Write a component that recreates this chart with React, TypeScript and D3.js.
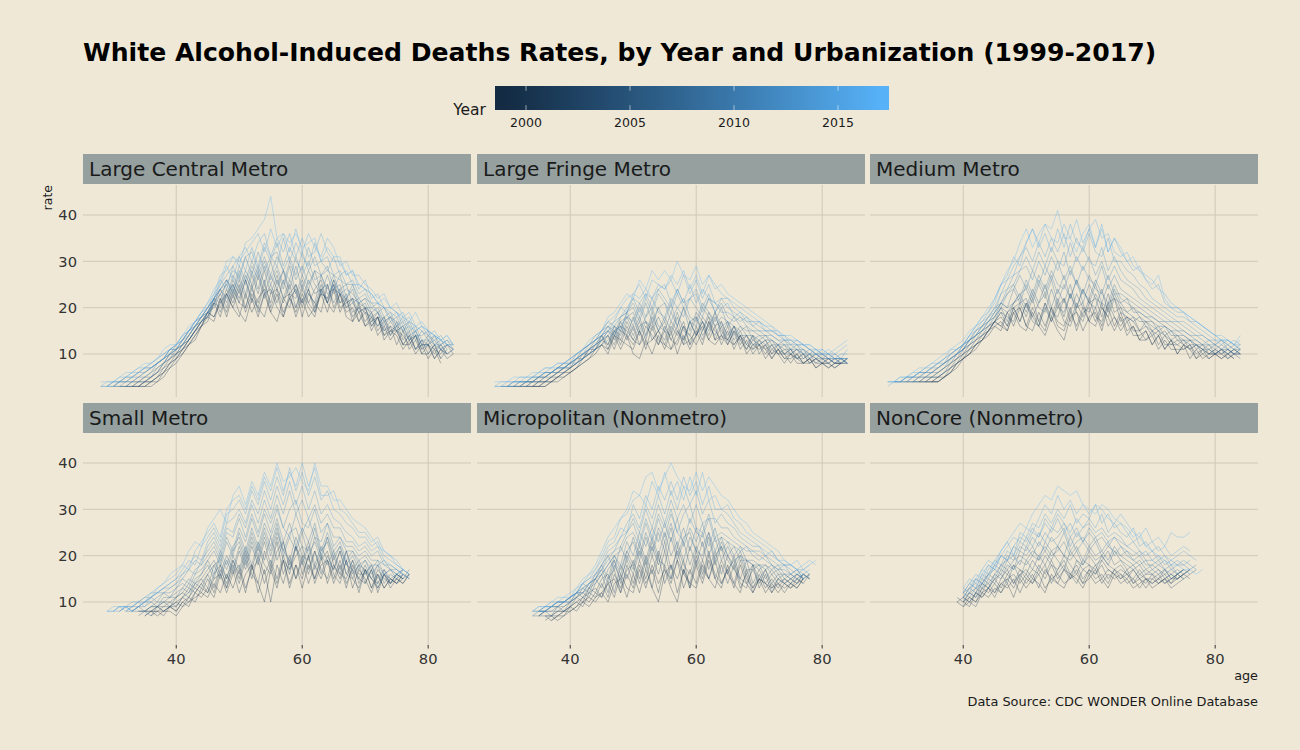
import React from 'react';
import * as d3 from 'd3';

// ---------------- DATA ----------------
const years = [1999, 2000, 2001, 2002, 2003, 2004, 2005, 2006, 2007, 2008, 2009, 2010, 2011, 2012, 2013, 2014, 2015, 2016, 2017];
const panelNames = ['Large Central Metro', 'Large Fringe Metro', 'Medium Metro', 'Small Metro', 'Micropolitan (Nonmetro)', 'NonCore (Nonmetro)'];
const ageTicks = [40, 60, 80];
const rateTicks = [10, 20, 30, 40];
const yearTicks = [2000, 2005, 2010, 2015];

// first age of each year's series (one value per year, 1-year age steps)
const lcmStart = [35, 34, 34, 33, 33, 32, 32, 31, 31, 30, 30, 30, 29, 29, 29, 28, 28, 28, 28];
const lcmRates = [
  [3,3,4,5,7, 8,10,12,13,16, 18,17,22,18,23, 19,17,22,18,23, 19,17,22,23,18, 22,18,20,23,19, 24,19,22,17,19, 16,17,18,13,15, 14,11,13,10,12, 9,11,8],
  [3,3,4,4,6,7, 9,10,12,14,16, 19,18,21,23,20, 18,23,19,22,24, 19,23,18,22,19, 23,20,18,24,21, 19,23,18,17,21, 16,18,14,16,13, 15,12,12,14,10, 12,9,11,10],
  [3,4,4,5,6,8, 9,11,12,14,16, 17,21,18,23,20, 24,19,23,20,18, 23,24,19,22,24, 18,23,21,19,25, 20,23,19,20,17, 19,15,18,14,16, 12,15,11,13,10, 10,12,9],
  [3,3,3,4,5,6,8, 10,11,13,15,16, 19,18,22,19,24, 21,20,25,19,23, 24,20,18,23,25, 20,24,19,23,22, 25,20,21,22,17, 20,16,18,14,15, 15,12,14,11,12, 12,9,11,9,10],
  [3,3,4,4,5,7,8, 9,11,13,15,17, 18,21,20,24,21, 25,20,24,21,26, 20,24,21,25,20, 24,21,19,24,21, 26,21,22,18,20, 17,19,15,17,14, 16,12,14,11,13, 10,12,9,11],
  [3,3,4,4,5,6,7,9, 10,12,13,15,17, 18,22,19,23,25, 21,26,22,20,25, 21,26,22,20,25, 21,24,20,25,21, 24,23,20,21,19, 20,16,18,15,16, 15,14,12,14,11, 12,11,10,12,10],
  [3,3,3,4,5,6,8,9, 10,11,13,15,17, 19,21,23,20,25, 22,26,21,27,22, 25,21,26,22,20, 25,21,24,26,21, 25,21,23,19,20, 19,18,16,18,14, 17,13,15,11,13, 12,10,12,10],
  [3,3,3,4,4,5,6,8,9, 11,12,13,15,17, 19,20,23,25,22, 26,22,27,23,28, 23,27,22,26,23, 21,26,23,24,25, 21,24,20,22,19, 20,19,16,18,15, 16,15,13,14,11, 13,11,12,10,11],
  [3,3,4,4,5,5,7,8,10, 10,12,14,16,17, 19,21,24,21,26, 23,27,24,28,23, 27,24,28,23,22, 26,23,21,27,23, 24,25,21,22,21, 20,17,19,15,17, 15,16,13,14,12, 12,13,11,10,11],
  [3,3,3,4,4,5,6,7,8,10, 11,12,14,16,18, 19,22,21,26,23, 27,23,28,24,29, 25,28,24,29,23, 27,24,28,23,22, 26,23,22,24,20, 21,18,19,16,18, 15,16,13,15,12, 12,14,11,12,11],
  [3,3,4,4,5,5,6,8,9,10, 12,13,15,16,18, 20,22,24,22,27, 24,28,25,29,25, 30,25,28,24,29, 24,28,25,23,27, 23,24,25,21,22, 20,20,19,17,18, 16,17,14,15,12, 14,12,11,12,11],
  [3,4,4,4,5,6,7,8,9,11, 11,13,15,17,18, 20,22,24,26,23, 28,25,29,26,30, 26,29,25,30,26, 29,25,28,27,24, 27,23,24,23,21, 22,19,20,17,18, 17,15,16,13,15, 13,12,13,11],
  [3,3,4,4,5,5,6,7,8,9,10, 11,12,14,16,17, 18,21,24,26,24, 29,26,30,27,31, 27,31,28,26,31, 27,30,26,27,29, 24,27,22,25,21, 22,21,19,20,17, 18,15,17,14,14, 15,12,12,13,11],
  [3,4,4,4,5,6,6,7,8,9,10, 11,13,14,16,18, 19,22,24,25,28, 27,31,27,32,28, 31,32,28,31,27, 32,28,31,27,28, 27,26,25,25,22, 23,20,21,18,19, 16,18,15,16,13, 13,14,12,13,12],
  [3,3,4,5,5,6,7,7,8,9,11, 11,13,15,16,18, 20,22,25,27,29, 26,31,32,28,33, 30,34,29,33,30, 28,33,29,30,31, 27,28,25,26,23, 24,21,21,20,18, 19,16,17,16,15, 14,13,14,12,12],
  [3,3,4,4,5,5,6,7,7,8,9,11, 12,13,15,17,18, 20,22,26,24,29, 31,28,33,29,34, 31,29,35,30,34, 31,29,34,30,28, 31,27,28,25,25, 24,23,21,20,19, 18,19,16,15,16, 14,15,13,12,12],
  [3,3,4,4,5,6,6,7,8,9,10,11, 12,14,15,17,19, 20,23,25,29,26, 31,33,30,34,36, 31,35,32,36,31, 35,31,32,36,32, 30,30,27,28,24, 26,22,23,20,20, 19,17,18,15,16, 15,14,13,12],
  [3,4,4,5,5,6,7,7,8,9,10,11, 12,14,15,17,19, 21,23,27,28,31, 30,32,34,36,32, 37,33,36,32,37, 32,36,33,31,35, 33,29,30,27,27, 25,24,22,23,20, 19,18,19,16,17, 15,14,13,14,12],
  [4,4,4,5,6,6,7,8,8,9,11,12, 12,14,16,17,19, 21,24,26,30,31, 29,34,35,37,39, 44,35,36,34,36, 33,34,35,30,33, 31,31,27,28,25, 24,23,21,22,20, 21,18,17,19,16, 15,14,13,14,12],
];

const lfmStart = [35, 34, 34, 33, 33, 32, 32, 31, 31, 30, 30, 30, 29, 29, 29, 28, 28, 28, 28];
const lfmRates = [
  [3,3,4,4,5, 6,7,8,9,10, 12,11,14,11,14, 10,9,13,10,14, 11,15,10,14,11, 14,16,13,12,14, 13,12,14,10,12, 11,12,9,11,9, 10,8,8,9,7, 8,7,8,8],
  [3,3,3,4,5,5, 6,7,8,9,11, 12,10,14,13,12, 11,15,12,13,15, 12,11,15,12,13, 15,12,17,13,14, 12,15,11,13,10, 12,11,9,11,10, 8,10,8,9,7, 8,8,7,8,9],
  [3,3,4,4,5,6, 6,7,9,10,11, 12,14,11,15,14, 12,15,11,16,12, 15,11,13,16,12, 14,17,13,16,12, 15,11,14,12,11, 12,9,11,10,8, 10,9,8,9,8, 8,7,8,8],
  [3,3,3,4,4,5,6, 7,8,9,10,11, 13,12,15,12,16, 13,12,16,14,12, 16,13,12,16,14, 12,15,18,13,16, 12,15,13,11,14, 10,12,10,11,9, 9,10,8,8,9, 8,8,7,8,8],
  [3,3,4,4,5,5,6, 7,8,9,11,11, 14,11,15,16,13, 16,12,14,17,13, 12,16,14,17,12, 16,13,17,15,13, 16,12,14,11,13, 12,10,12,10,11, 10,9,10,8,9, 8,9,8,8],
  [3,3,3,4,4,5,6,6, 7,8,10,10,12, 13,14,12,16,15, 13,16,17,13,15, 17,13,16,12,17, 14,17,14,18,15, 13,16,12,14,11, 13,11,12,10,10, 11,9,10,8,9, 8,9,8,8,9],
  [3,3,4,4,4,5,6,7, 7,9,9,11,12, 14,12,16,13,17, 14,17,13,18,15, 13,17,15,13,17, 14,18,16,14,17, 13,16,13,14,12, 12,13,10,12,10, 11,9,9,10,8, 9,8,9,8,8],
  [3,3,3,4,4,5,5,6,7, 8,9,10,11,12, 13,15,14,17,14, 18,14,17,15,18, 15,14,18,13,17, 18,14,16,19,14, 17,13,15,12,14, 12,13,11,12,10, 10,11,9,10,9, 9,8,9,9,8],
  [3,3,4,4,5,5,6,6,7, 8,9,10,11,13, 14,15,13,17,18, 15,18,14,19,15, 18,15,19,15,14, 18,15,19,16,17, 14,16,14,14,12, 13,12,13,11,12, 10,11,10,9,10, 9,9,8,9,8],
  [3,3,3,4,4,4,5,6,7,7, 8,9,11,12,13, 14,16,15,14,18, 19,15,18,20,16, 15,19,16,20,15, 19,17,15,19,16, 17,14,16,14,14, 13,14,12,12,11, 11,10,11,9,10, 9,9,8,9,9],
  [3,3,4,4,4,5,5,6,7,8, 8,10,11,12,13, 15,16,14,18,19, 16,20,17,16,20, 17,21,16,20,17, 16,20,18,16,18, 17,16,15,16,13, 14,13,13,12,12, 11,11,10,10,9, 10,9,9,8,9],
  [3,3,3,4,4,5,6,6,7,8, 9,10,11,12,14, 15,17,16,15,19, 20,17,21,17,20, 21,17,20,22,18, 17,21,19,17,20, 16,18,16,15,15, 14,14,13,12,13, 11,12,10,11,10, 9,10,9,9,8],
  [3,3,3,4,4,4,5,5,6,6,7, 7,8,9,10,11, 12,13,15,16,18, 17,21,18,22,19, 18,22,20,18,22, 20,18,22,19,21, 18,17,18,16,15, 15,14,14,13,12, 12,11,11,10,10, 10,9,9,9,8],
  [3,3,4,4,4,5,5,6,6,7,7, 8,8,9,10,11, 13,14,16,15,19, 21,18,22,19,23, 21,19,23,20,22, 23,19,22,21,19, 19,18,17,18,16, 15,15,14,13,13, 12,12,11,10,11, 10,9,10,9,9],
  [3,3,4,4,4,5,5,6,6,7,7, 8,9,10,11,12, 13,15,16,18,19, 22,19,23,20,24, 22,20,24,21,22, 24,20,23,19,22, 20,19,18,17,17, 16,15,15,14,13, 13,12,12,11,10, 10,10,9,9,9],
  [3,3,3,4,4,4,5,5,6,6,7,7, 8,9,10,11,12, 14,15,17,18,20, 22,21,23,22,24, 25,21,24,21,25, 21,24,22,21,20, 21,18,19,17,16, 17,15,15,14,14, 12,13,12,11,10, 11,10,9,10,10],
  [3,3,4,4,4,5,5,6,6,7,7,8, 8,9,10,12,13, 14,16,17,20,19, 23,22,24,22,25, 24,26,23,27,23, 26,22,25,21,22, 22,20,19,18,17, 17,16,15,15,13, 13,12,12,11,11, 10,10,10,9,11],
  [3,4,4,4,5,5,5,6,7,7,8,8, 9,10,11,12,13, 15,17,18,20,22, 23,25,22,26,25, 24,27,25,28,24, 27,23,27,25,23, 22,21,20,19,18, 17,16,16,14,14, 13,13,12,12,11, 10,11,10,11,12],
  [4,4,4,5,5,5,6,6,7,7,8,8, 9,10,11,13,14, 15,18,19,21,23, 22,26,24,28,26, 28,26,30,27,26, 29,25,27,24,25, 23,22,21,20,19, 18,17,16,15,14, 14,13,12,12,11, 11,10,11,12,13],
];

const mmStart = [35, 35, 34, 34, 33, 33, 32, 32, 31, 31, 30, 30, 29, 29, 29, 28, 28, 28, 28];
const mmRates = [
  [4,4,5,6,8, 9,10,12,13,14, 16,17,15,19,16, 15,19,16,14,18, 15,13,18,19,15, 18,19,15,20,16, 19,15,16,13,15, 12,14,11,13,10, 12,9,11,9,10, 10,9,10,9],
  [4,4,5,6,7, 9,10,11,13,15, 16,15,19,16,20, 16,15,19,16,20, 16,15,19,16,20, 17,16,20,18,15, 18,14,16,13,13, 14,11,13,11,11, 11,12,9,10,9, 10,9,10,11,10],
  [4,4,4,5,6,8, 9,10,12,13,15, 17,16,15,19,20, 16,20,17,15,20, 17,16,20,15,19, 20,17,21,16,18, 15,17,14,14,15, 12,14,11,13,10, 12,11,9,11,9, 10,10,9,10],
  [4,4,5,5,7,8, 9,11,12,13,15, 17,18,16,20,17, 21,17,16,20,17, 21,17,16,20,21, 17,20,16,21,18, 16,18,15,15,13, 15,12,14,12,12, 11,12,10,11,10, 10,11,9,10,10],
  [4,4,4,5,6,7,8, 10,11,12,14,15, 17,16,19,20,17, 21,18,16,21,17, 20,22,17,21,18, 22,18,17,21,22, 17,18,17,15,16, 14,15,12,12,13, 12,11,12,10,11, 10,11,10,9],
  [4,4,5,5,6,7,9, 10,11,13,14,15, 17,19,16,20,21, 18,22,17,21,18, 22,18,23,19,17, 21,22,18,23,19, 20,17,18,15,17, 15,14,15,13,12, 13,11,12,11,10, 11,10,11,10,9],
  [4,4,4,5,5,6,8,9, 10,12,13,14,16, 17,19,18,17,21, 22,18,21,23,19, 18,22,19,23,20, 19,23,20,18,22, 19,18,17,18,16, 15,16,14,13,14, 12,13,11,12,10, 11,10,11,10,10],
  [4,4,5,5,6,7,8,9, 11,12,13,15,16, 17,20,17,21,22, 19,23,20,19,24, 20,19,23,20,24, 21,20,24,19,23, 20,19,18,17,17, 16,15,14,15,13, 13,12,12,11,11, 10,11,10,11,10],
  [4,4,4,5,5,6,7,8,10, 11,12,14,15,16, 18,20,19,21,23, 20,24,21,25,20, 24,21,25,20,24, 21,25,21,20,24, 21,19,20,18,17, 17,15,16,14,14, 13,13,12,11,12, 10,11,11,10,11],
  [4,4,5,5,6,6,7,9,10, 11,13,14,15,17, 18,21,20,21,23, 24,21,25,22,26, 21,25,22,26,21, 25,22,21,25,22, 21,22,19,19,18, 17,16,16,15,14, 14,13,12,12,11, 12,11,10,11,11],
  [4,4,4,5,5,6,7,8,9,10, 12,13,14,16,17, 19,21,20,24,21, 25,22,26,23,27, 23,27,22,26,23, 22,26,23,21,25, 22,21,20,19,18, 18,17,16,15,15, 14,13,13,12,12, 11,12,11,10,11],
  [4,4,5,5,6,6,7,8,10,11, 12,13,15,16,18, 20,21,23,25,22, 26,23,27,24,28, 25,24,28,25,23, 27,24,23,27,23, 23,22,21,20,19, 18,17,17,16,15, 15,14,13,12,13, 12,11,12,11,10],
  [4,4,4,5,5,6,6,7,8,9,10, 11,13,14,15,17, 18,20,23,24,27, 24,28,25,29,26, 30,26,29,25,29, 26,25,29,24,27, 24,23,22,21,20, 19,18,17,17,16, 15,14,14,13,12, 12,13,11,12,11],
  [4,4,5,5,6,6,7,7,8,9,10, 11,13,14,16,17, 19,21,24,25,28, 29,26,30,27,31, 28,32,27,31,28, 31,27,30,26,29, 26,25,24,22,21, 20,19,18,17,17, 16,15,14,14,13, 12,13,12,11,12],
  [4,4,5,5,6,6,7,8,8,9,10, 12,13,15,16,18, 19,23,24,27,28, 31,28,32,29,33, 30,29,34,30,33, 30,29,33,28,31, 28,26,25,24,22, 21,20,19,18,17, 17,16,15,14,13, 13,12,13,12,11],
  [3,4,4,5,5,6,6,7,8,9,10,11, 12,14,15,17,18, 20,23,26,27,31, 33,30,34,31,35, 32,36,31,35,32, 36,32,31,35,30, 30,28,27,25,24, 22,21,20,19,18, 18,17,16,15,14, 13,13,12,13,12],
  [4,4,4,5,5,6,7,7,8,9,10,11, 12,14,16,17,19, 21,25,26,29,31, 34,37,33,36,32, 37,33,38,34,33, 37,33,38,32,35, 32,30,28,29,26, 24,25,21,20,19, 19,17,17,16,15, 14,13,13,12,12],
  [4,4,5,5,6,6,7,8,8,9,11,11, 12,14,16,18,19, 22,25,27,31,29, 34,37,34,38,35, 34,38,35,39,34, 37,39,35,36,32, 31,32,29,28,27, 26,24,23,21,20, 19,18,17,16,15, 14,14,13,12,13],
  [4,4,5,5,6,7,7,8,9,10,11,12, 13,15,16,18,20, 22,25,28,30,34, 37,33,36,38,37, 41,35,35,32,36, 38,33,37,32,35, 33,30,31,28,26, 25,27,22,20,20, 19,18,17,16,15, 14,13,13,12,14],
];

const smStart = [36, 36, 35, 35, 35, 34, 34, 34, 33, 33, 32, 32, 31, 31, 30, 30, 29, 29, 29];
const smRates = [
  [8,7,8,8, 7,9,10,11,12, 11,14,12,16,13, 17,12,18,14,10, 17,13,19,14,18, 13,18,15,20,14, 18,15,19,13,17, 15,12,16,13,15, 14,16],
  [7,8,8,9, 8,10,9,12,11, 13,11,16,13,17, 12,16,18,12,17, 10,18,14,19,15, 19,14,18,15,19, 14,18,13,18,15, 14,17,12,16,14, 15,14,16],
  [7,8,8,7,9, 8,10,11,10,13, 12,15,16,12,16, 18,13,17,19,14, 18,14,19,13,18, 15,20,14,18,19, 15,19,14,17,12, 17,13,16,13,15, 14,15],
  [7,8,9,8,9, 10,9,11,13,12, 15,12,17,14,18, 14,19,15,20,16, 19,15,20,16,22, 16,20,15,19,21, 16,14,19,15,13, 17,15,13,16,13, 15,14,16],
  [8,8,8,9,9, 9,11,10,12,14, 12,16,18,13,19, 15,20,16,14,21, 17,23,16,20,15, 20,16,21,17,15, 20,16,15,19,14, 17,13,17,15,14, 16,15],
  [7,8,8,9,8,9, 10,11,13,12,14, 16,13,18,15,19, 16,21,17,22,18, 16,21,23,17,20, 22,17,21,16,20, 17,21,16,15,18, 14,17,13,16,15, 14,16,15],
  [8,8,7,9,9,10, 9,11,12,14,13, 16,18,15,19,16, 21,17,22,18,23, 18,24,19,17,22, 18,22,17,21,23, 18,16,21,17,15, 18,15,14,17,14, 16,15],
  [8,8,9,9,10,9, 11,12,11,14,15, 13,18,19,15,20, 17,22,18,23,19, 24,19,23,18,22, 19,23,18,22,19, 17,21,16,19,16, 16,18,14,16,14, 16,15,17],
  [8,8,8,9,9,10,10, 11,12,14,13,15, 17,19,16,20,17, 22,18,23,19,24, 20,25,21,19,24, 20,19,24,20,18, 21,17,21,16,18, 17,15,18,14,16, 15,17],
  [8,9,8,9,10,10,11, 11,13,12,15,16, 18,15,20,17,21, 23,19,24,20,25, 21,26,20,24,21, 25,20,23,19,24, 19,22,18,17,19, 16,18,15,17,15, 16,15,16],
  [8,8,9,9,10,9,11,11, 12,13,15,14,16, 19,16,21,18,22, 24,20,25,21,26, 22,27,21,25,26, 22,21,26,20,24, 20,22,18,20,17, 19,16,18,16,17, 15,16],
  [8,9,9,10,10,11,12,11, 13,14,13,16,17, 19,21,18,23,20, 25,21,26,22,27, 24,28,23,27,22, 26,23,27,21,25, 21,23,19,21,18, 19,17,19,16,17, 16,17,16],
  [8,9,8,9,10,11,10,12,12, 13,15,14,17,18, 20,22,19,24,21, 26,23,28,24,29, 25,30,26,24,29, 25,28,24,23,27, 22,24,21,21,19, 20,18,18,19,17, 16,17],
  [8,9,9,10,10,11,12,12,13, 14,15,17,16,19, 21,23,20,25,24, 28,24,29,25,30, 27,31,26,30,32, 27,26,30,25,27, 24,24,22,22,20, 21,19,19,18,17, 17,16,15],
  [8,8,9,9,10,11,11,12,13,13, 14,16,17,19,18, 22,24,21,26,25, 29,26,31,27,32, 28,33,29,34,29, 32,28,31,27,29, 26,26,23,23,21, 22,20,21,18,18, 17,16],
  [8,9,9,10,10,11,12,12,13,14, 15,16,18,20,19, 23,25,22,27,28, 30,27,32,29,34, 30,35,31,36,31, 35,30,34,29,31, 28,27,25,24,22, 23,21,22,19,18, 17,16,15],
  [8,8,9,9,8,9,10,11,12,13,14, 15,17,19,18,22, 24,26,23,29,30, 32,29,34,31,36, 32,37,33,39,34, 38,33,37,32,34, 30,29,27,26,24, 24,22,23,20,19, 18,17,16],
  [8,9,9,8,9,10,9,11,13,14,15, 16,18,17,21,23, 25,27,24,30,32, 33,30,35,32,37, 34,39,34,38,35, 40,35,39,33,33, 34,30,29,27,25, 25,23,24,21,20, 19,17,16],
  [8,8,9,9,8,9,10,12,13,14,16, 17,18,21,23,22, 26,28,30,27,33, 35,31,36,33,38, 35,40,36,37,39, 36,34,40,35,35, 32,32,30,28,27, 26,24,22,21,20, 18,17],
];

const mpStart = [37, 37, 36, 36, 36, 35, 35, 35, 34, 34, 34, 35, 35, 35, 35, 35, 34, 34, 34];
const mpRates = [
  [7,6,7, 8,9,10,9,11, 12,10,14,15,11, 16,12,17,13,10, 16,18,12,17,13, 18,14,19,15,13, 18,14,12,17,13, 15,12,14,12,14, 13,14,15],
  [6,7,7, 9,8,10,11,10, 12,14,11,16,13, 12,17,13,18,14, 17,13,10,17,14, 13,18,15,19,14, 17,13,18,14,12, 15,14,13,14,12, 14,13,15,16],
  [7,6,7,8, 8,9,11,10,12, 11,14,15,12,16, 13,18,14,17,12, 18,14,19,13,17, 14,19,15,13,18, 14,18,13,16,12, 15,14,12,14,13, 14,13,15],
  [6,7,7,8, 9,10,9,12,11, 14,11,16,13,17, 18,14,19,13,20, 14,18,15,19,13, 19,15,20,16,14, 17,19,14,13,18, 13,16,12,15,14, 13,15,14,16],
  [7,7,8,8, 9,10,11,12,13, 11,15,17,12,18, 14,19,15,20,16, 21,15,19,16,14, 20,16,21,15,19, 16,14,19,15,13, 16,13,15,13,15, 14,15,14],
  [7,7,7,8,8, 9,11,10,13,12, 15,16,12,18,15, 19,15,20,16,21, 17,15,22,18,16, 21,17,15,20,22, 16,20,15,14,17, 14,17,13,15,14, 15,14,16,15],
  [7,8,7,9,8, 10,11,12,11,14, 16,12,18,15,19, 16,21,17,22,18, 23,17,21,16,22, 18,23,17,21,16, 20,17,15,19,14, 17,14,16,14,15, 14,16,15],
  [7,8,8,8,9, 10,12,11,13,15, 13,17,19,14,20, 17,22,18,23,19, 18,24,19,23,18, 22,19,24,18,22, 19,17,20,16,18, 15,17,14,16,14, 15,14,16,15],
  [7,7,8,8,9,9, 10,11,13,12,15, 17,14,19,16,21, 18,23,19,24,20, 25,20,23,19,24, 21,20,25,19,23, 20,18,21,17,17, 18,15,17,15,16, 15,16,15],
  [7,8,8,9,9,10, 11,12,12,14,15, 18,15,20,17,21, 23,19,24,20,25, 21,26,20,24,25, 21,25,20,24,19, 22,19,20,19,18, 17,18,16,17,15, 16,15,16,15],
  [8,8,8,9,10,10, 11,12,14,13,16, 18,20,17,22,19, 24,20,25,21,26, 23,27,22,26,21, 26,22,25,21,24, 20,22,19,19,18, 18,17,18,16,16, 15,16,15],
  [8,8,9,9,10, 10,11,12,13,14, 16,18,20,18,23, 20,25,22,26,23, 27,23,28,22,26, 23,27,22,26,21, 23,20,22,19,19, 18,18,17,18,16, 16,15,16,15],
  [8,9,9,10,10, 11,12,12,14,15, 16,18,20,21,24, 25,22,27,23,28, 24,29,25,23,28, 25,24,28,23,24, 23,22,21,22,20, 19,20,18,17,17, 16,17,15],
  [8,8,9,9,10, 10,12,13,14,15, 17,19,21,22,25, 27,23,28,24,29, 26,30,25,29,31, 26,25,29,24,25, 24,23,22,21,21, 20,19,18,17,18, 16,17,15,16],
  [8,9,9,10,10, 11,12,13,14,16, 17,20,21,24,25, 28,25,30,26,31, 27,32,28,31,27, 31,27,28,28,26, 26,24,23,22,21, 21,20,19,18,18, 17,16,17,16],
  [8,8,9,10,10, 11,12,14,15,16, 18,21,22,24,27, 29,26,31,28,33, 29,34,30,35,31, 34,29,32,27,29, 27,26,24,23,22, 22,20,21,19,18, 18,17,16,17],
  [8,8,9,9,10,10, 11,12,14,15,17, 19,22,23,26,25, 31,28,33,30,35, 32,36,32,37,33, 36,31,35,30,30, 29,27,25,24,23, 22,21,20,19,18, 18,17,17,18],
  [8,9,9,10,10,11, 11,13,14,16,17, 20,23,24,28,29, 32,33,31,36,33, 38,33,36,32,37, 33,38,32,33,30, 31,28,27,25,24, 23,22,21,19,19, 18,17,18,19,18],
  [8,9,9,10,11,11, 12,13,15,16,18, 21,24,26,28,30, 34,33,37,38,34, 37,40,37,35,34, 38,34,37,35,33, 32,30,28,27,25, 24,23,22,21,19, 18,19,17,18,19],
];

const ncStart = [39, 39, 39, 40, 40, 40, 40, 40, 40, 40, 40, 40, 40, 40, 40, 40, 40, 41, 41];
const ncRates = [
  [10, 9,11,10,12,11, 13,12,14,11,15, 13,15,14,12,16, 14,13,16,15,13, 16,14,15,13,16, 14,15,13,14,15, 13,14,15,14,16, 17],
  [11, 10,9,12,11,13, 12,14,13,15,12, 15,14,16,13,15, 16,14,15,17,14, 15,17,14,16,15, 16,14,15,13,15, 14,15,14,15,15, 16,17],
  [10, 11,10,9,12,13, 11,14,15,13,16, 14,16,13,17,15, 14,17,15,16,14, 17,15,16,14,17, 15,16,14,15,13, 15,14,15,13,14, 15],
  [10,11,10,13,12, 14,12,15,16,14, 16,14,17,15,18, 15,17,16,14,17, 16,18,15,17,16, 15,17,14,16,15, 14,15,16,14,15, 16,15],
  [9,10,12,11,13, 15,13,16,14,17, 15,17,16,18,14, 17,19,16,18,15, 17,16,18,15,17, 16,15,17,15,14, 16,14,15,16,15, 16],
  [10,12,11,13,14, 12,15,17,14,16, 17,15,18,16,19, 16,18,15,19,17, 18,16,19,17,16, 17,16,15,17,15, 15,16,14,15,16, 15,16,17],
  [11,10,12,14,13, 15,16,14,18,17, 16,19,17,20,18, 17,20,18,16,19, 18,17,20,18,17, 18,16,17,15,16, 16,15,17,15,16, 15],
  [10,12,13,12,15, 14,17,16,18,15, 19,17,20,18,21, 19,17,21,19,18, 20,18,19,21,18, 19,17,18,16,17, 16,17,15,16,15, 16,17],
  [11,12,11,14,13, 16,15,18,17,19, 18,20,19,21,19, 22,20,19,21,18, 21,19,20,18,21, 19,18,17,18,16, 17,16,17,15,16, 17],
  [11,13,12,15,14, 16,18,17,19,20, 19,21,20,22,20, 21,23,20,22,19, 22,20,21,19,22, 20,19,18,19,17, 18,17,16,17,16, 17,16],
  [12,11,13,14,16, 15,18,19,17,21, 20,22,19,23,21, 22,20,24,21,23, 21,23,20,22,21, 20,21,19,18,19, 17,18,17,16,17, 16,17,18],
  [12,13,14,13,16, 17,16,19,20,18, 22,20,23,21,24, 22,25,21,23,24, 22,24,21,23,20, 22,20,19,20,18, 18,19,17,18,16, 17],
  [11,13,15,14,16, 18,17,20,19,22, 21,24,22,25,23, 24,26,22,25,23, 25,23,24,22,24, 22,21,20,21,19, 19,18,19,17,18, 18,17],
  [12,14,13,16,15, 18,20,19,22,21, 24,22,25,23,26, 25,27,24,26,23, 26,24,25,23,24, 23,22,21,20,21, 19,20,18,19,18, 19,18,17],
  [13,12,15,14,17, 19,18,21,20,23, 22,25,24,27,25, 28,25,27,24,26, 27,25,26,24,25, 24,22,23,21,20, 21,19,20,18,19, 18,19],
  [12,14,16,15,18, 17,20,19,22,24, 23,26,24,28,26, 29,27,25,28,26, 28,26,29,25,27, 25,24,26,22,23, 21,22,20,19,20, 21,20,19],
  [13,15,14,17,19, 18,21,23,20,25, 24,27,26,29,27, 30,28,31,27,29, 28,31,27,29,26, 27,25,23,24,22, 23,21,22,20,21, 22,21],
  [14,13,16,18, 17,20,22,24,23, 26,25,28,31,29, 33,30,32,29,31, 29,31,30,28,27, 29,27,25,24,26, 23,24,22,25,24, 24,25],
  [14,15,17,16, 19,21,23,25,27, 26,29,31,33,32, 35,34,33,34,31, 30,29,31,30,28, 27,26,24,25,22, 21,20,19,18,18, 17,17,16,17],
];

const panelStarts = [lcmStart, lfmStart, mmStart, smStart, mpStart, ncStart];
const panelRates = [lcmRates, lfmRates, mmRates, smRates, mpRates, ncRates];

// ---------------- LAYOUT ----------------
const BG = '#EFE8D7';
const STRIP = '#95A09F';
const GRID = '#CFC8BB';
const colX = [83, 477, 870];
const panelW = 388;
const stripTop = [154, 403];
const stripH = 30;
const panelTop = [185, 433];
const panelH = 212;
const FONT = 'DejaVu Sans, Verdana, sans-serif';

type Pt = { age: number; rate: number };

export default function App() {
  const series = panelRates.map((rates, p) =>
    rates.map((vals, i) => ({
      year: years[i],
      pts: vals.map((r, k) => ({ age: panelStarts[p][i] + k, rate: r })) as Pt[],
    }))
  );
  const allPts = series.flat().flatMap((s) => s.pts);
  const aMin = d3.min(allPts, (d) => d.age) as number;
  const aMax = d3.max(allPts, (d) => d.age) as number;
  const aPad = (aMax - aMin) * 0.05;
  const rateDomain: [number, number] = [0.72, 46.47];

  const color = d3
    .scaleLinear<string>()
    .domain([1999, 2017])
    .range(['#132B43', '#56B1F7'])
    .interpolate(d3.interpolateLab);

  const barX0 = 495, barX1 = 889, barY0 = 86, barY1 = 110;
  const barScale = d3.scaleLinear().domain([1999, 2017]).range([505.2, 879.6]);

  return (
    <svg
      width={1300}
      height={750}
      style={{ position: 'absolute', left: 0, top: 0, display: 'block' }}
      fontFamily={FONT}
    >
      <defs>
        <linearGradient id="yearGrad" x1={barX0} x2={barX1} y1={0} y2={0} gradientUnits="userSpaceOnUse">
          {d3.range(1999, 2017.01, 0.5).map((yv) => (
            <stop key={yv} offset={(barScale(yv) - barX0) / (barX1 - barX0)} stopColor={color(yv)} />
          ))}
        </linearGradient>
        {[0, 1].map((r) =>
          colX.map((cx, c) => (
            <clipPath id={`clip-${r}-${c}`} key={`${r}-${c}`}>
              <rect x={cx} y={panelTop[r]} width={panelW} height={panelH} />
            </clipPath>
          ))
        )}
      </defs>
      <rect x={0} y={0} width={1300} height={750} fill={BG} />

      <text x={83} y={61} fontSize={25.1} fontWeight="bold" fill="#000">
        White Alcohol-Induced Deaths Rates, by Year and Urbanization (1999-2017)
      </text>

      {/* legend */}
      <text x={486} y={114.5} fontSize={15.5} textAnchor="end" fill="#1a1a1a">Year</text>
      <rect x={barX0} y={barY0} width={barX1 - barX0} height={barY1 - barY0} fill="url(#yearGrad)" />
      {yearTicks.map((t) => (
        <g key={t}>
          <line x1={barScale(t)} x2={barScale(t)} y1={barY0} y2={barY0 + 4.8} stroke="#ffffff" strokeOpacity={0.55} strokeWidth={1} />
          <line x1={barScale(t)} x2={barScale(t)} y1={barY1 - 4.8} y2={barY1} stroke="#ffffff" strokeOpacity={0.55} strokeWidth={1} />
          <text x={barScale(t)} y={127} fontSize={12.5} textAnchor="middle" fill="#1a1a1a">{t}</text>
        </g>
      ))}

      {/* panels */}
      {panelNames.map((name, p) => {
        const r = Math.floor(p / 3);
        const c = p % 3;
        const x = d3.scaleLinear().domain([aMin - aPad, aMax + aPad]).range([colX[c], colX[c] + panelW]);
        const y = d3.scaleLinear().domain(rateDomain).range([panelTop[r] + panelH, panelTop[r]]);
        const line = d3
          .line<Pt>()
          .x((d) => x(d.age))
          .y((d) => y(d.rate));
        return (
          <g key={name}>
            <rect x={colX[c]} y={stripTop[r]} width={panelW} height={stripH} fill={STRIP} />
            <text x={colX[c] + 6} y={stripTop[r] + 22} fontSize={20} fill="#1a1a1a">{name}</text>
            {ageTicks.map((t) => (
              <line key={'v' + t} x1={x(t)} x2={x(t)} y1={panelTop[r]} y2={panelTop[r] + panelH} stroke={GRID} strokeWidth={1} />
            ))}
            {rateTicks.map((t) => (
              <line key={'h' + t} x1={colX[c]} x2={colX[c] + panelW} y1={y(t)} y2={y(t)} stroke={GRID} strokeWidth={1} />
            ))}
            <g clipPath={`url(#clip-${r}-${c})`}>
              {series[p].map((s) => (
                <path
                  key={s.year}
                  d={line(s.pts) || ''}
                  fill="none"
                  stroke={color(s.year)}
                  strokeWidth={0.6}
                  strokeOpacity={0.55}
                  strokeLinejoin="round"
                />
              ))}
            </g>
            {c === 0 &&
              rateTicks.map((t) => (
                <text key={'yl' + t} x={77} y={y(t) + 5.2} fontSize={14.7} textAnchor="end" fill="#333333">{t}</text>
              ))}
            {r === 1 &&
              ageTicks.map((t) => (
                <g key={'xl' + t}>
                  <line x1={x(t)} x2={x(t)} y1={panelTop[r] + panelH} y2={panelTop[r] + panelH + 3.5} stroke="#333333" strokeWidth={1} />
                  <text x={x(t)} y={664} fontSize={14.7} textAnchor="middle" fill="#333333">{t}</text>
                </g>
              ))}
          </g>
        );
      })}

      <text transform="translate(51.5,185) rotate(-90)" fontSize={12.5} textAnchor="end" fill="#1a1a1a">rate</text>
      <text x={1258} y={679.5} fontSize={12.8} textAnchor="end" fill="#1a1a1a">age</text>
      <text x={1258} y={705.5} fontSize={12.9} textAnchor="end" fill="#1a1a1a">Data Source: CDC WONDER Online Database</text>
    </svg>
  );
}
